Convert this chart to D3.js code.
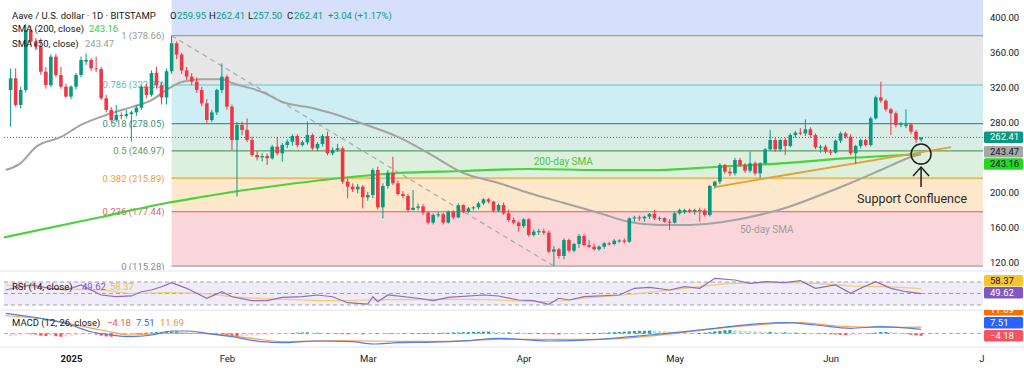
<!DOCTYPE html>
<html>
<head>
<meta charset="utf-8">
<script src="https://cdn.jsdelivr.net/npm/d3@7"></script>
<style>
body { margin: 0; background: #fff; }
svg { display: block; font-family: Roboto, "Liberation Sans", sans-serif; }
</style>
</head>
<body>
<script>
var w = 1024;
var h = 378;
var plotLeft = 4, plotRight = 983;

// daily candles, first one is 2024-12-20
var firstDay = "2024-12-20";
var opens = [316.6,329.9,299.4,316.6,385,372,366,337.5,322.3,354.7,333.7,320.4,309,320.4,333.7,349,350.9,341.3,340.5,307.1,293.7,282.3,288,287,289,291,296.4,320.4,311,336,322,308,338,370,357,339,331.8,326,316.6,301.3,282.3,291,316.6,331.8,297.5,259.4,276.6,271,259.4,242.3,239.6,241.1,238.5,251.8,244.2,253.7,257.5,264,253.7,256.8,265.1,249.9,254.9,264,244.2,248,249.9,211.8,206.1,203,206.1,193.9,196.6,225.1,182.5,206.9,222,210,197.7,195.4,179.4,182,183.5,176.4,165,173.7,174.5,165,177.5,171,185,177.5,181.3,182.5,187,191.6,189,178.7,185.1,175.6,168,165,161.1,168.8,150.9,154.7,155.2,153.5,131.8,134.5,126.9,145.1,133,140.6,149.7,139.4,137.5,134.5,137.5,141.3,140.6,144.4,144.6,143.2,169.9,171,169.9,171.8,174.9,169.9,170.2,166.1,164.9,175.6,177,179.4,177.5,179.4,179,173.7,206.9,211.8,230.9,223.2,221.3,236.6,230.9,224.4,232.8,221.3,232.8,248.8,259.4,248.8,259.4,252.6,265.1,267.8,267,271.6,265.1,251.1,251.8,246.1,245,258.7,267,263.2,244.2,252.6,259.4,253.7,284.2,308.2,304.4,294.5,289.9,276.6,275.5,277.2,268.9,259.95];
var highs = [341.3,341.3,320.4,392,390,376,375.6,343,357.3,358,343,324,322,336,354.7,358.5,353,354.7,343,311,297,299.4,291,293.7,293,299,322,324,339,343,326,341,378.66,372,359,343,336,331,320,306,294,318,347,334,300,280,280.4,284.2,263,247,244,244,254,263.2,256,260,266,266,259,280.4,267,257,266,269,251,255,252,215,210,209,208,200,227,229,210,225.1,240.4,213,201,198,202.3,187,186,178,175.5,177,176,179,179,187,186,183,184,189,193,193,190,187,188,180,171,167,170,170,157,158,158,156,138,136,147,147,142,152,152,145,141,139,143,143,146,146,147,171,173,173,173,176,179.4,172,171,169,177,181,181,181,181,182,181,208,213,233,232,228,239,239,233,246.1,235,234,250,270.9,262,261,262,267,270,273,283,274,267,254,254,249,260,269,269,266,254,261,261,286,310,326.1,306,296,292,280,294.5,279,271,262.41];
var lows = [274.7,297.5,295.6,314,368,362,334,318,320,331,318,307.8,306,317,331,345,338,337,305,291,280,280.4,283,284,257.5,287,294,307,309,318,300,300,335,352,335,328,322,313,298,279,280,288,313,294,248,194.7,265,257,240.4,236,235,230.9,237,242,234.7,250,253,251,252,254,248,247,252,242,242,246,209,192.8,200,198.5,181.3,190,193,180,169.9,204,208,196,193,177,179,179,174,163,163,171,163,164,169,170,176,176,179,180,185,187,177,177,174,166,163,154.7,159,149,149,151,151,130,115.28,124,123,131,131,136,138,136,133,133,135,139,139,142,141,142,166,167,166,169,168,167,165,156.6,164,174,175,176,174,166.1,172,172,204,209,221,218,219,229,222,222,219,215.6,231,247,246,246,242.3,251,262,265,264,262,249,245,244,242.3,244,256,261,242,232,250,252,252,283,302,292,265.1,274,274,273,266,256,257.5];
var closes = [329.9,299.4,316.6,385,372,366,337.5,322.3,354.7,333.7,320.4,309,320.4,333.7,350.9,351,341.3,340.5,307.1,293.7,282.3,288,287,289,291,296.4,320.4,311,336,322,308,338,370,357,339,331.8,326,316.6,301.3,282.3,291,316.6,331.8,297.5,259.4,276.6,271,259.4,242.3,239.6,241.1,238.5,251.8,244.2,253.7,257.5,264,253.7,256.8,265.1,249.9,254.9,264,244.2,248,249.9,211.8,206.1,203,206.1,193.9,196.6,225.1,182.5,206.9,222,210,197.7,195.4,179.4,182,183.5,176.4,165,173.7,174.5,165,177.5,171,185,177.5,181.3,182.5,187,191.6,189,178.7,185.1,175.6,168,165,161.1,168.8,150.9,154.7,155.2,153.5,131.8,134.5,126.9,145.1,133,140.6,149.7,139.4,137.5,134.5,137.5,141.3,140.6,144.4,144.6,143.2,169.9,171,169.9,171.8,174.9,169.9,170.2,166.1,164.9,175.6,179.4,179.4,177.5,179.4,179,173.7,206.9,211.8,230.9,223.2,221.3,236.6,230.9,224.4,232.8,221.3,232.8,248.8,259.4,248.8,259.4,252.6,265.1,267.8,267,271.6,265.1,251.1,251.8,246.1,245,258.7,267,263.2,244.2,252.6,259.4,253.7,284.2,308.2,304.4,294.5,289.9,276.6,277.7,277.2,268.9,259.95,262.41];
var macdHist = [-5,-4,-3,-1,-1.5,-2,-4,-4.5,-3,-5,-6,-5.5,-4,-3,-2,-1.5,-1,-2,-4,-5.5,-6,-4,-3,-2,-1,0.5,1,1.5,2,2.5,3,3.5,4,4,3,2,1,0.5,-0.5,-1,-1.5,-2,-3,-4,-5,-5.5,-5,-4.5,-4,-3.5,-3,-2.5,-2,-1.5,-1,-0.5,1,1.5,2,2,1.5,1.5,1,1,0.5,-0.5,-1,-1.5,-1,-1,-1.5,-1,-0.5,-1,-0.5,0,-0.5,-0.5,-1,-0.5,0,0.5,0.5,0.5,1,1,1.5,1.5,2,2,2.5,2.5,3,3,3.5,3.5,3,2.5,2,2,1.5,1.5,1,1,0.5,0.5,-0.5,-1,-1.5,-2,-1.5,-1,-1,-0.5,-0.5,0,0.5,1,1.5,2,2.5,3,3.5,4,4.5,5,5,5.5,5,4.5,4,3.5,3,2.5,2,1.5,1,1,1.5,2.5,4,5,6,6.5,6,5.5,5,4.5,4,3.5,3,3,2.5,2,2,1.5,1.5,1,1,0.5,0,-0.5,-1,-1.5,-2,-2.5,-3,-3,-2.5,-2,-1.5,0.5,1.5,2.5,3,2.5,1.5,0.5,-1,-2.5,-3.5,-4.18];

// indicator lines, days counted from 2025-01-01
var sma50Days = [-13,-10,-7,-2,2,7,12,16,19,22,26,30,32,38,42,48,51,57,65,71,78,85,91,98,105,111,117,122,128,135,142,148,155,161,167,169];
var sma50 = [225.1,233,251.4,262.9,276.6,288,297,305,316.6,325.7,329,329,324.6,314.3,302.9,296,291.4,280,262.9,244.6,221.7,210.3,198.9,187.4,176,165.7,162.3,162.3,164.6,171.4,181.7,194.3,210.3,225.1,240,243.47];
var sma200Days = [-14,6,19,26,32,42,51,65,78,91,105,117,128,142,155,169];
var sma200 = [147.4,171.4,187.4,194.3,200,208,214.3,221.7,224,226.3,225.1,225.1,228.6,233.1,238.9,243.16];
var rsiDays = [-13,-10,-8,-4,-1,2,6,9,12,14,16,18,20,23,27,30,32,36,39,42,46,49,52,55,59,60,61,63,69,72,75,82,85,89,92,95,97,99,102,109,112,115,119,122,125,128,132,135,138,142,145,148,152,155,157,160,163,166,169];
var rsi = [56.1,61.8,64.8,59,56.1,64.8,47.4,44.4,45.7,53.1,56.1,61.8,68.8,59,41.7,53.1,44.4,37.5,37.5,43.4,44.4,47.4,44.4,34,31.7,44.4,35.7,47.4,41.7,37.5,43.4,47.4,45.7,38.7,37.5,31.2,41.7,38.7,44.4,47.4,59,60.8,56.1,61.8,59,76.4,73.5,67.7,70.5,68.8,72.3,59,64.8,50.3,59,70.5,59,53.1,49.62];
var rsiMaDays = [-13,-4,6,12,19,26,32,42,52,59,69,79,85,95,102,112,122,132,142,148,155,161,169];
var rsiMa = [64.8,59,56.1,50.3,51.4,50.3,44.4,39.9,37.5,38.7,39.9,39.9,38.7,35.7,41.7,49.1,59,67.7,68.8,67.7,63,61.8,58.37];
var macdDays = [-13,-8,-1,4,8,12,16,20,23,27,32,38,42,49,56,60,65,72,79,85,95,105,115,122,128,135,142,148,155,161,169];
var macd = [37.4,31,18.7,3.3,-2.8,-5.9,-2.8,4.6,4.6,0.4,-5.9,-15.2,-17,-13.9,-15.2,-19.4,-17,-16.1,-13.1,-8.9,-13.9,-10.7,-2.8,3.3,9.6,17,20,15.7,9.6,12.6,7.51];
var signalDays = [-13,-4,6,12,19,26,36,42,52,65,75,85,105,122,132,145,152,161,169];
var signal = [33.3,25,6.5,-2.8,0.4,0.4,-8.9,-15.2,-13.3,-14.4,-14.4,-11,-10.7,2.2,12.6,20,13.9,11.3,11.69];

// fibonacci retracement, high on day 20 and low on day 96
var fibRatios = ["1", "0.786", "0.618", "0.5", "0.382", "0.236", "0"];
var fibPrices = [378.66, 322.30, 278.05, 246.97, 215.89, 177.44, 115.28];
var fibStartDay = 20, fibLowDay = 96;
var trendDays = [128, 175];
var trendPrices = [205.7, 251.4];

var priceTicks = [120, 160, 200, 280, 320, 360, 400];
var monthNames = ["2025", "Feb", "Mar", "Apr", "May", "Jun", "J"];
var lastPrice = 262.41;

var jan1 = new Date(Date.UTC(2025, 0, 1));
function day(n) { return d3.utcDay.offset(jan1, n); }
var start = d3.utcParse("%Y-%m-%d")(firstDay);

var candles = closes.map(function(c, i) {
    return {date: d3.utcDay.offset(start, i), o: opens[i], h: highs[i], l: lows[i], c: c, hist: macdHist[i]};
});

var x = d3.scaleUtc().domain([jan1, day(181)]).range([71, 71 + 181 * 5.03]);
var y = d3.scaleLinear().domain([120, 400]).range([262, 17]);
var yRsi = d3.scaleLinear().domain([30, 70]).range([305, 282]);
var yMacd = d3.scaleLinear().domain([-20, 20]).range([344.3, 322.7]);

var up = "#089981", down = "#f23645", ink = "#131722";

var svg = d3.select("body")
    .append("svg")
    .attr("width", w)
    .attr("height", h);

var defs = svg.append("defs");
function clip(id, y0, y1) {
    defs.append("clipPath").attr("id", id).append("rect")
        .attr("x", plotLeft).attr("y", y0).attr("width", plotRight - plotLeft).attr("height", y1 - y0);
}
clip("cMain", 0, 270);
clip("cRsi", 272, 309);
clip("cMacd", 311, 347);

var main = svg.append("g").attr("clip-path", "url(#cMain)");

// fib zones
var fx = x(day(fibStartDay));
var bandFill = ["#e6e6e6", "#cdeff3", "#d8ede6", "#ddf0dd", "#fde8cc", "#fad6da"];
var lineCol = ["#9e9e9e", "#5cc6cf", "#3d9a87", "#5a9e68", "#f0a236", "#de5a64", "#a0a0a0"];
var labelCol = ["#9a9a9a", "#5cbcc6", "#3d8f80", "#5a9a62", "#eda03a", "#dc6470", "#8c8c8c"];

main.append("rect")
    .attr("x", fx).attr("y", 0)
    .attr("width", plotRight - fx).attr("height", y(fibPrices[0]))
    .attr("fill", "#d7e0fa");
main.selectAll("rect.band")
    .data(bandFill)
    .join("rect")
    .attr("x", fx)
    .attr("y", function(d, i) { return y(fibPrices[i]); })
    .attr("width", plotRight - fx)
    .attr("height", function(d, i) { return y(fibPrices[i + 1]) - y(fibPrices[i]); })
    .attr("fill", function(d) { return d; });
main.selectAll("line.fib")
    .data(fibPrices)
    .join("line")
    .attr("x1", fx).attr("x2", plotRight)
    .attr("y1", function(d) { return y(d); })
    .attr("y2", function(d) { return y(d); })
    .attr("stroke", function(d, i) { return lineCol[i]; })
    .attr("stroke-width", 1.2);
main.selectAll("text.fib")
    .data(fibPrices)
    .join("text")
    .attr("x", fx - 7)
    .attr("y", function(d) { return y(d) + 3.5; })
    .attr("text-anchor", "end")
    .attr("font-size", 9.5)
    .attr("fill", function(d, i) { return labelCol[i]; })
    .text(function(d, i) { return fibRatios[i] + " (" + d.toFixed(2) + ")"; });

// dashed fib anchor
main.append("line")
    .attr("x1", x(day(fibStartDay))).attr("y1", y(fibPrices[0]))
    .attr("x2", x(day(fibLowDay))).attr("y2", y(fibPrices[6]))
    .attr("stroke", "#aaaaaa").attr("stroke-width", 1.2)
    .attr("stroke-dasharray", "5,4");

// last price dotted line
main.append("line")
    .attr("x1", plotLeft).attr("x2", plotRight)
    .attr("y1", y(lastPrice)).attr("y2", y(lastPrice))
    .attr("stroke", "#55706a").attr("stroke-width", 1)
    .attr("stroke-dasharray", "1,2");

var lineFun = d3.line()
    .x(function(d) { return x(day(d[0])); })
    .y(function(d) { return y(d[1]); })
    .curve(d3.curveMonotoneX);

main.append("path")
    .attr("d", lineFun(d3.zip(sma200Days, sma200)))
    .attr("stroke", "#45d43a").attr("stroke-width", 2.2).attr("fill", "none");
main.append("path")
    .attr("d", lineFun(d3.zip(sma50Days, sma50)))
    .attr("stroke", "#a3a3a3").attr("stroke-width", 2).attr("fill", "none");
main.append("path")
    .attr("d", d3.line().x(function(d) { return x(day(d[0])); }).y(function(d) { return y(d[1]); })(d3.zip(trendDays, trendPrices)))
    .attr("stroke", "#e5a030").attr("stroke-width", 1.8).attr("fill", "none");

// candles
var cg = main.selectAll("g.candle")
    .data(candles)
    .join("g");
cg.append("line")
    .attr("x1", function(d) { return x(d.date); })
    .attr("x2", function(d) { return x(d.date); })
    .attr("y1", function(d) { return y(d.h); })
    .attr("y2", function(d) { return y(d.l); })
    .attr("stroke", function(d) { return d.c >= d.o ? up : down; })
    .attr("stroke-width", 1);
cg.append("rect")
    .attr("x", function(d) { return x(d.date) - 1.8; })
    .attr("width", 3.6)
    .attr("y", function(d) { return y(Math.max(d.o, d.c)); })
    .attr("height", function(d) { return Math.max(1, Math.abs(y(d.o) - y(d.c))); })
    .attr("fill", function(d) { return d.c >= d.o ? up : down; });

// annotations
main.append("text").attr("x", x(day(92))).attr("y", y(sma200[9]) - 4)
    .attr("font-size", 10).attr("fill", "#4cc640").text("200-day SMA");
main.append("text").attr("x", x(day(133))).attr("y", y(sma50[27]) + 8)
    .attr("font-size", 10).attr("fill", "#9c9c9c").text("50-day SMA");

var cx = x(day(169)), cy = y(243.3);
main.append("circle").attr("cx", cx).attr("cy", cy).attr("r", 10)
    .attr("fill", "none").attr("stroke", "#1e1e1e").attr("stroke-width", 1.5);
main.append("line").attr("x1", cx).attr("x2", cx).attr("y1", cy + 13).attr("y2", cy + 33)
    .attr("stroke", "#1e1e1e").attr("stroke-width", 1.5);
main.append("path")
    .attr("d", "M" + (cx - 8) + "," + (cy + 22) + "L" + cx + "," + (cy + 13) + "L" + (cx + 8) + "," + (cy + 22))
    .attr("fill", "none").attr("stroke", "#1e1e1e").attr("stroke-width", 1.5);
main.append("text").attr("x", cx - 64).attr("y", cy + 49)
    .attr("font-size", 12.5).attr("fill", "#2a2a2a").text("Support Confluence");

// legend
function legend(parts, yy) {
    parts.forEach(function(p) {
        svg.append("text").attr("x", p[1]).attr("y", yy)
            .attr("font-size", 9.5).attr("fill", p[2] || ink).text(p[0]);
    });
}
legend([["Aave / U.S. dollar \u00b7 1D \u00b7 BITSTAMP", 12], ["O", 170], ["259.95", 177, up], ["H", 209], ["262.41", 216, up],
    ["L", 248], ["257.50", 253, up], ["C", 287], ["262.41", 294, up], ["+3.04 (+1.17%)", 328, up]], 18.5);
legend([["SMA (200, close)", 12], ["243.16", 89, "#3cc83c"]], 31.5);
legend([["SMA (50, close)", 12], ["243.47", 85, "#9a9a9a"]], 46.5);

// RSI pane
var rsiG = svg.append("g").attr("clip-path", "url(#cRsi)");
rsiG.append("rect").attr("x", plotLeft).attr("width", plotRight - plotLeft)
    .attr("y", yRsi(70)).attr("height", yRsi(30) - yRsi(70)).attr("fill", "#efebf8");
rsiG.selectAll("line.lvl").data([70, 50, 30]).join("line")
    .attr("x1", plotLeft).attr("x2", plotRight)
    .attr("y1", function(d) { return yRsi(d); }).attr("y2", function(d) { return yRsi(d); })
    .attr("stroke", "#8a8d96").attr("stroke-width", 0.8).attr("stroke-dasharray", "4,3");
var rsiLine = d3.line().x(function(d) { return x(day(d[0])); }).y(function(d) { return yRsi(d[1]); });
rsiG.append("path").attr("d", rsiLine.curve(d3.curveMonotoneX)(d3.zip(rsiMaDays, rsiMa)))
    .attr("stroke", "#f2cd6a").attr("stroke-width", 1.2).attr("fill", "none");
rsiG.append("path").attr("d", rsiLine.curve(d3.curveLinear)(d3.zip(rsiDays, rsi)))
    .attr("stroke", "#8b6cc9").attr("stroke-width", 1.2).attr("fill", "none");
legend([["RSI (14, close)", 12], ["49.62", 82, "#7e57c2"], ["58.37", 110, "#e8c23a"]], 289.5);

// MACD pane
var macdG = svg.append("g").attr("clip-path", "url(#cMacd)");
macdG.append("line").attr("x1", plotLeft).attr("x2", plotRight)
    .attr("y1", yMacd(0)).attr("y2", yMacd(0))
    .attr("stroke", "#9598a1").attr("stroke-width", 0.8).attr("stroke-dasharray", "4,3");
macdG.selectAll("rect.hist").data(candles).join("rect")
    .attr("x", function(d) { return x(d.date) - 1.6; })
    .attr("width", 3.2)
    .attr("y", function(d) { return Math.min(yMacd(0), yMacd(d.hist)); })
    .attr("height", function(d) { return Math.max(0.6, Math.abs(yMacd(d.hist) - yMacd(0))); })
    .attr("fill", function(d, i) {
        var prev = i > 0 ? candles[i - 1].hist : d.hist;
        if (d.hist >= 0) return d.hist >= prev ? "#26a69a" : "#b2dfdb";
        return d.hist < prev ? "#ff5252" : "#ffcdd2";
    });
var macdLine = d3.line().x(function(d) { return x(day(d[0])); }).y(function(d) { return yMacd(d[1]); })
    .curve(d3.curveMonotoneX);
macdG.append("path").attr("d", macdLine(d3.zip(signalDays, signal)))
    .attr("stroke", "#ff9b4a").attr("stroke-width", 1.2).attr("fill", "none");
macdG.append("path").attr("d", macdLine(d3.zip(macdDays, macd)))
    .attr("stroke", "#4f7fe8").attr("stroke-width", 1.2).attr("fill", "none");
legend([["MACD (12, 26, close)", 12], ["\u22124.18", 107, "#f05a5a"], ["7.51", 136, "#2962ff"], ["11.69", 160, "#ff8a3d"]], 325.5);

// pane separators
svg.selectAll("line.sep").data([271, 310, 347]).join("line")
    .attr("x1", 0).attr("x2", w)
    .attr("y1", function(d) { return d; }).attr("y2", function(d) { return d; })
    .attr("stroke", "#e0e3eb").attr("stroke-width", 1);

// price axis
var yAxis = svg.append("g")
    .attr("transform", "translate(" + (plotRight + 4) + ",0)")
    .call(d3.axisRight(y).tickValues(priceTicks).tickFormat(d3.format(".2f")).tickSize(0));
yAxis.select(".domain").remove();
yAxis.selectAll("text").attr("font-size", 9.5).attr("fill", ink)
    .attr("font-family", "Roboto, 'Liberation Sans', sans-serif");

// date axis
var xAxis = svg.append("g")
    .attr("transform", "translate(0,352)")
    .call(d3.axisBottom(x)
        .tickValues(d3.range(7).map(function(i) { return d3.utcMonth.offset(jan1, i); }))
        .tickFormat(function(d, i) { return monthNames[i]; })
        .tickSize(0));
xAxis.select(".domain").remove();
xAxis.selectAll("text").attr("font-size", 9.5).attr("fill", ink)
    .attr("font-family", "Roboto, 'Liberation Sans', sans-serif")
    .attr("font-weight", function(d, i) { return i == 0 ? 700 : 400; });

// value tags on the right scale
var tags = [
    [y(lastPrice) - 6, "262.41", up, "#fff"],
    [y(243.47) - 8, "243.47", "#a7a7a7", ink],
    [y(243.16) + 4, "243.16", "#21d921", ink],
    [275, "58.37", "#f7c531", ink],
    [287, "49.62", "#7e57c2", "#fff"],
    [304, "11.69", "#ff6d00", "#fff"],
    [317, "7.51", "#2962ff", "#fff"],
    [330, "\u22124.18", "#f7525f", "#fff"]
];
var tg = svg.selectAll("g.tag").data(tags).join("g")
    .attr("transform", function(d) { return "translate(" + (plotRight + 1) + "," + d[0] + ")"; });
tg.append("rect").attr("width", 39).attr("height", 11.5).attr("rx", 1.5)
    .attr("fill", function(d) { return d[2]; });
tg.append("text").attr("x", 6).attr("y", 9).attr("font-size", 9.5)
    .attr("fill", function(d) { return d[3]; })
    .text(function(d) { return d[1]; });
svg.append("rect").attr("x", plotRight).attr("y", 300).attr("width", 41).attr("height", 10).attr("fill", "#fff");
</script>
</body>
</html>
